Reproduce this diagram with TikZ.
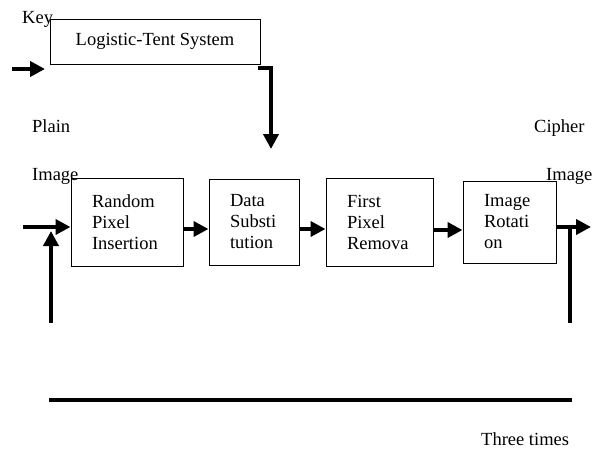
\documentclass[tikz,border=0pt]{standalone}
\usepackage{fontspec}
\setmainfont{Liberation Serif}
\usetikzlibrary{positioning,arrows.meta}

\begin{document}
\begin{tikzpicture}[x=1pt, y=-1pt, font=\fontsize{18.5}{21}\selectfont,
    block/.style={rectangle, draw, line width=1pt, align=left, inner xsep=21pt, inner ysep=0pt},
    flow/.style={line width=4pt, -{Triangle[length=15pt,width=15pt]}},
    tag/.style={inner sep=0pt, anchor=base west}]
    \useasboundingbox (0,0) rectangle (595,450);

    \node (keybox) [rectangle, draw, line width=1pt, minimum width=210pt, minimum height=45pt] at (155,41.5) {Logistic-Tent System};
    \node (rpi) [block, text width=70pt, minimum height=88pt] at (127,222) {Random\\Pixel\\Insertion};
    \node (ds) [block, text width=48pt, minimum height=86pt, right=25pt of rpi] {Data\\Substi\\tution};
    \node (fpr) [block, text width=65pt, minimum height=88pt, right=26pt of ds] {First\\Pixel\\Remova};
    \node (ir) [block, text width=51pt, minimum height=82pt, right=29pt of fpr] {Image\\Rotati\\on};

    \node (key) [tag] at (22,23) {Key};
    \node (plain) [tag] at (32,132) {Plain};
    \node (plainimg) [tag] at (32,180) {Image};
    \node (cipher) [tag] at (534,132) {Cipher};
    \node (cipherimg) [tag] at (546,180) {Image};
    \node (times) [tag] at (481,445) {Three times};

    \coordinate (keyin) at (12,69);
    \coordinate (keyout) at (45,69);
    \coordinate (seedtop) at (258,68);
    \coordinate (seed) at (271,149);
    \coordinate (plainin) at (23,227);
    \coordinate (loopbot) at (51,323);
    \coordinate (looptop) at (51,231);
    \coordinate (cipherout) at (591,227);
    \coordinate (rbot) at (570,323);
    \coordinate (rtop) at (570,227);
    \coordinate (lineL) at (49,400);
    \coordinate (lineR) at (572,400);

    \draw [flow] (keyin) -- (keyout);
    \draw [flow] (seedtop) -| (seed);
    \draw [flow] (plainin) -- (rpi.west |- plainin);
    \draw [flow] (loopbot) -- (looptop);
    \draw [flow] (rpi.east |- 0,229) -- (ds.west |- 0,229);
    \draw [flow] (ds.east |- 0,229) -- (fpr.west |- 0,229);
    \draw [flow] (fpr.east |- 0,230) -- (ir.west |- 0,230);
    \draw [flow] (ir.east |- cipherout) -- (cipherout);
    \draw [line width=4pt] (rbot) -- (rtop);
    \draw [line width=4pt] (lineL) -- (lineR);
\end{tikzpicture}
\end{document}
